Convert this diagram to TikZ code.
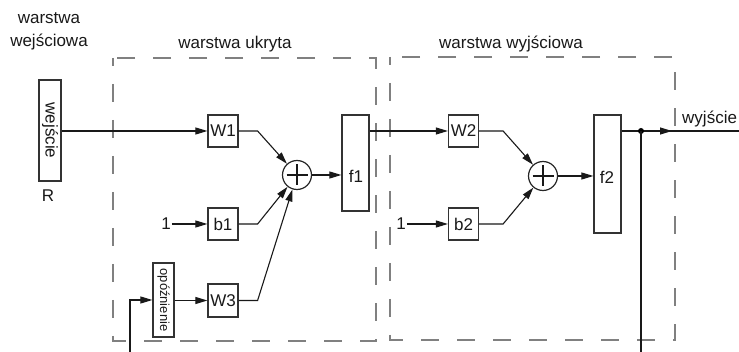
\documentclass[tikz,border=0pt]{standalone}
\usepackage{fontspec}
\setmainfont{Liberation Sans}
\usetikzlibrary{arrows.meta,calc}
\begin{document}
\begin{tikzpicture}[x=1pt,y=-1pt,
  txt/.style={font=\fontsize{17}{23}\selectfont, text=black!90, inner sep=1pt},
  blk/.style={draw=black!80, line width=1.2pt, inner sep=0pt, fill=white,
    font=\fontsize{17}{17}\selectfont, text=black!90},
  sq/.style={blk, minimum width=30pt, minimum height=32pt},
  sum/.style={draw=black!85, circle, line width=1.2pt, minimum size=29pt, inner sep=0pt},
  wire/.style={line width=1.1pt, black!90},
  arr/.style={wire, -{Triangle[length=12pt,width=7pt]}},
  layer/.style={draw=black!50, line width=1.8pt, dash pattern=on 18pt off 18pt}
]
\useasboundingbox (0,0) rectangle (739,352);

% layer frames
\draw[layer, dash phase=10pt] (113,58) rectangle (376,341);
\draw[layer, dash phase=10pt] (390,57) rectangle (675,340);

% labels
\node[txt, align=center] (lin) at (49,31) {warstwa\\wejściowa};
\node[txt, anchor=base] (lhid) at (235,49) {warstwa ukryta};
\node[txt, anchor=base] (lout) at (511,49) {warstwa wyjściowa};

% input block
\node[blk, minimum width=22pt, minimum height=101pt] (in) at (50,130.5) {\rotatebox{-90}{wejście}};
\node[txt] (R) at (48,196) {R};

% hidden layer
\node[sq] (W1) at (223,131) {W1};
\node[sq] (b1) at (223,224) {b1};
\node[sq, minimum height=33pt] (W3) at (223,300.5) {W3};
\node[blk, minimum width=21pt, minimum height=74pt] (del) at (163.5,300) {\fontsize{13}{13}\selectfont\rotatebox{-90}{opóźnienie}};
\node[txt] (one1) at (166,224) {1};
\node[sum] (s1) at (297,175) {};
\node[blk, minimum width=27pt, minimum height=96pt] (f1) at (355.5,163) {};
\node[txt] (f1t) at (356,176) {f1};

% output layer
\node[sq] (W2) at (463.5,131) {W2};
\node[sq] (b2) at (463.5,224) {b2};
\node[txt] (one2) at (401,224) {1};
\node[sum] (s2) at (543,176) {};
\node[blk, minimum width=27pt, minimum height=118pt] (f2) at (607.5,174) {};
\node[txt] (f2t) at (607,177) {f2};
\node[txt, anchor=base west] (outl) at (681,124) {wyjście};

% plus signs
\draw[wire] ($(s1.center)+(-10.5,0)$) -- ($(s1.center)+(10.5,0)$);
\draw[wire] ($(s1.center)+(0,-10.5)$) -- ($(s1.center)+(0,10.5)$);
\draw[wire] ($(s2.center)+(-10.5,0)$) -- ($(s2.center)+(10.5,0)$);
\draw[wire] ($(s2.center)+(0,-10.5)$) -- ($(s2.center)+(0,10.5)$);

% connectors hidden layer
\draw[arr] (in.east |- W1) -- (W1.west);
\draw[arr] (one1) -- (b1.west);
\draw[arr] (del.east |- W3) -- (W3.west);
\draw[arr] (W1.east) -- ++(19,0) -- (s1);
\draw[arr] (b1.east) -- ++(19,0) -- (s1);
\draw[arr] (W3.east) -- ++(19,0) -- (s1);
\draw[arr] (s1.east) -- (s1.east -| f1.west);

% connectors output layer
\draw[arr] (W2.west -| f1.east) -- (W2.west);
\draw[arr] (one2) -- (b2.west);
\draw[arr] (W2.east) -- ++(24,0) -- (s2);
\draw[arr] (b2.east) -- ++(24,0) -- (s2);
\draw[arr] (s2.east) -- (s2.east -| f2.west);

% output and feedback
\coordinate (dot) at (641,131);
\coordinate (tip) at (672,131);
\coordinate (outend) at (739,131);
\coordinate (fbR) at (641,352);
\coordinate (fbL) at (130,352);
\draw[wire] (dot -| f2.east) -- (outend);
\draw[arr] (dot) -- (tip);
\fill (dot) circle (3pt);
\draw[wire] (dot) -- (fbR);
\draw[arr] (fbL) |- (del.west);
\end{tikzpicture}
\end{document}
